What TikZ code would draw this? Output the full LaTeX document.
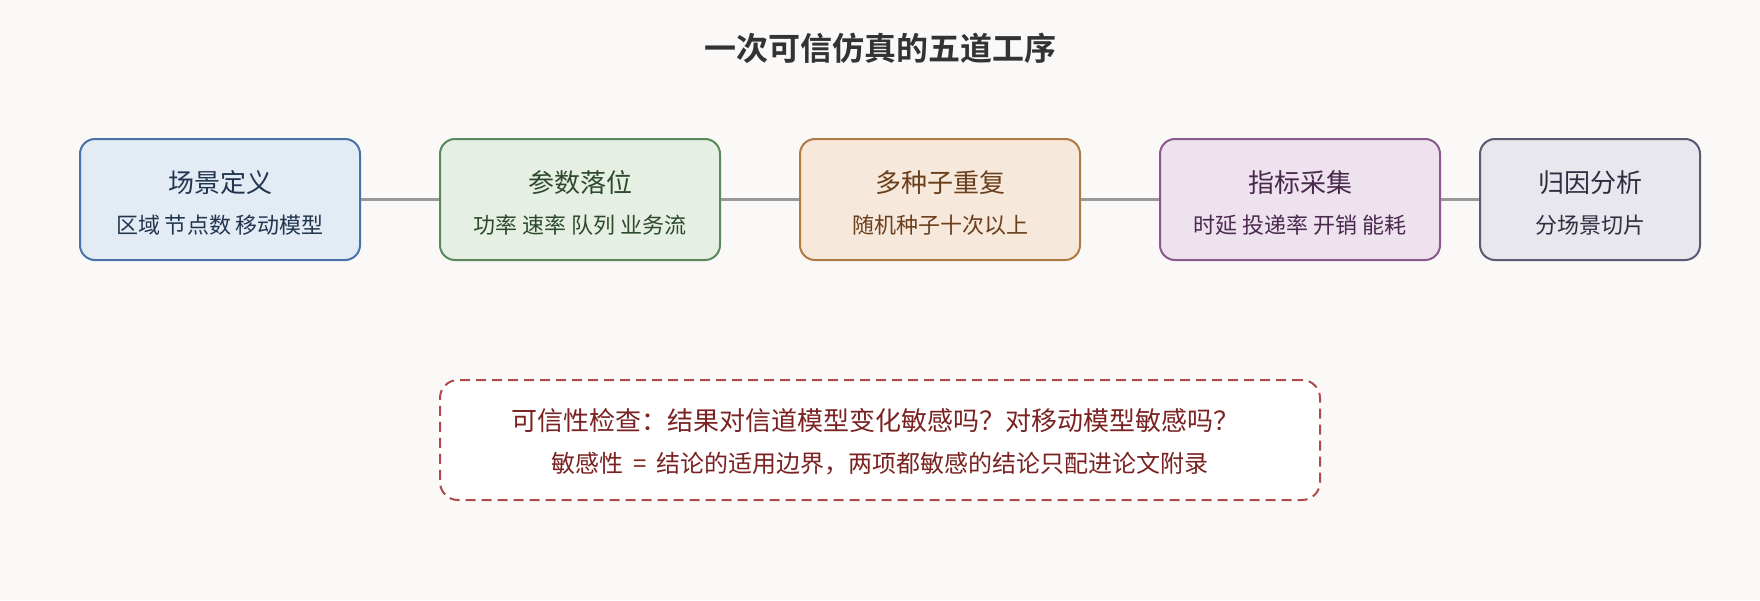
\documentclass[tikz,border=0pt]{standalone}
\usepackage{fontspec}
\setmainfont{Noto Sans CJK SC}[BoldFont={Noto Sans CJK SC Bold}]
\definecolor{bg}{HTML}{FAF9F7}
\definecolor{conncol}{HTML}{999999}
\definecolor{fA}{HTML}{E3EBF5}\definecolor{dA}{HTML}{4A72A8}\definecolor{tA}{HTML}{22354F}
\definecolor{fB}{HTML}{E6EFE3}\definecolor{dB}{HTML}{5A8A5C}\definecolor{tB}{HTML}{2D4A2D}
\definecolor{fC}{HTML}{F6E8DA}\definecolor{dC}{HTML}{B07A45}\definecolor{tC}{HTML}{6B3F1C}
\definecolor{fD}{HTML}{EFE2EF}\definecolor{dD}{HTML}{8A5A8C}\definecolor{tD}{HTML}{4A2A4C}
\definecolor{fE}{HTML}{E7E7ED}\definecolor{dE}{HTML}{5A5A75}\definecolor{tE}{HTML}{2E2E40}
\definecolor{dR}{HTML}{B04A4A}\definecolor{tR}{HTML}{7A2222}
\definecolor{ttl}{HTML}{333333}
\tikzset{
  stage/.style={draw, line width=2pt, rounded corners=15pt, minimum height=121pt, inner sep=0pt},
  stitle/.style={font=\fontsize{26}{30}\selectfont, inner sep=0pt},
  ssub/.style={font=\fontsize{22}{26}\selectfont, inner sep=0pt},
  conn/.style={draw=conncol, line width=3pt},
  note/.style={draw=dR, fill=white, line width=2pt, dash pattern=on 10pt off 6pt, rounded corners=18pt, minimum width=880pt, minimum height=120pt, inner sep=0pt},
  notetext/.style={text=tR, inner sep=0pt},
}
\begin{document}
\begin{tikzpicture}[x=1pt,y=-1pt]
\fill[bg] (0,0) rectangle (1760,600);
\useasboundingbox (0,0) rectangle (1760,600);
\node[text=ttl, font=\fontsize{32}{38}\selectfont\bfseries, inner sep=0pt] (title) at (880,48) {一次可信仿真的五道工序};

\node[stage, fill=fA, draw=dA, minimum width=280pt] (b1) at (220,199.5) {};
\node[stage, fill=fB, draw=dB, minimum width=280pt] (b2) at (580,199.5) {};
\node[stage, fill=fC, draw=dC, minimum width=280pt] (b3) at (940,199.5) {};
\node[stage, fill=fD, draw=dD, minimum width=280pt] (b4) at (1300,199.5) {};
\node[stage, fill=fE, draw=dE, minimum width=220pt] (b5) at (1590,199.5) {};

\draw[conn] (b1.east) -- (b2.west);
\draw[conn] (b2.east) -- (b3.west);
\draw[conn] (b3.east) -- (b4.west);
\draw[conn] (b4.east) -- (b5.west);

\node[stitle, text=tA] (t1) at (220,183) {场景定义};
\node[ssub, text=tA] (s1) at (220,225) {区域 节点数 移动模型};
\node[stitle, text=tB] (t2) at (580,183) {参数落位};
\node[ssub, text=tB] (s2) at (580,225) {功率 速率 队列 业务流};
\node[stitle, text=tC] (t3) at (940,183) {多种子重复};
\node[ssub, text=tC] (s3) at (940,225) {随机种子十次以上};
\node[stitle, text=tD] (t4) at (1300,183) {指标采集};
\node[ssub, text=tD] (s4) at (1300,225) {时延 投递率 开销 能耗};
\node[stitle, text=tE] (t5) at (1590,183) {归因分析};
\node[ssub, text=tE] (s5) at (1590,225) {分场景切片};

\node[note] (n) at (880,440) {};
\node[notetext, font=\fontsize{26}{30}\selectfont] (n1) at (875.5,421) {可信性检查：结果对信道模型变化敏感吗？对移动模型敏感吗？};
\node[notetext, font=\fontsize{24}{28}\selectfont] (n2) at (880,464) {敏感性\hspace{0.4em}=\hspace{0.4em}结论的适用边界，两项都敏感的结论只配进论文附录};
\end{tikzpicture}
\end{document}
